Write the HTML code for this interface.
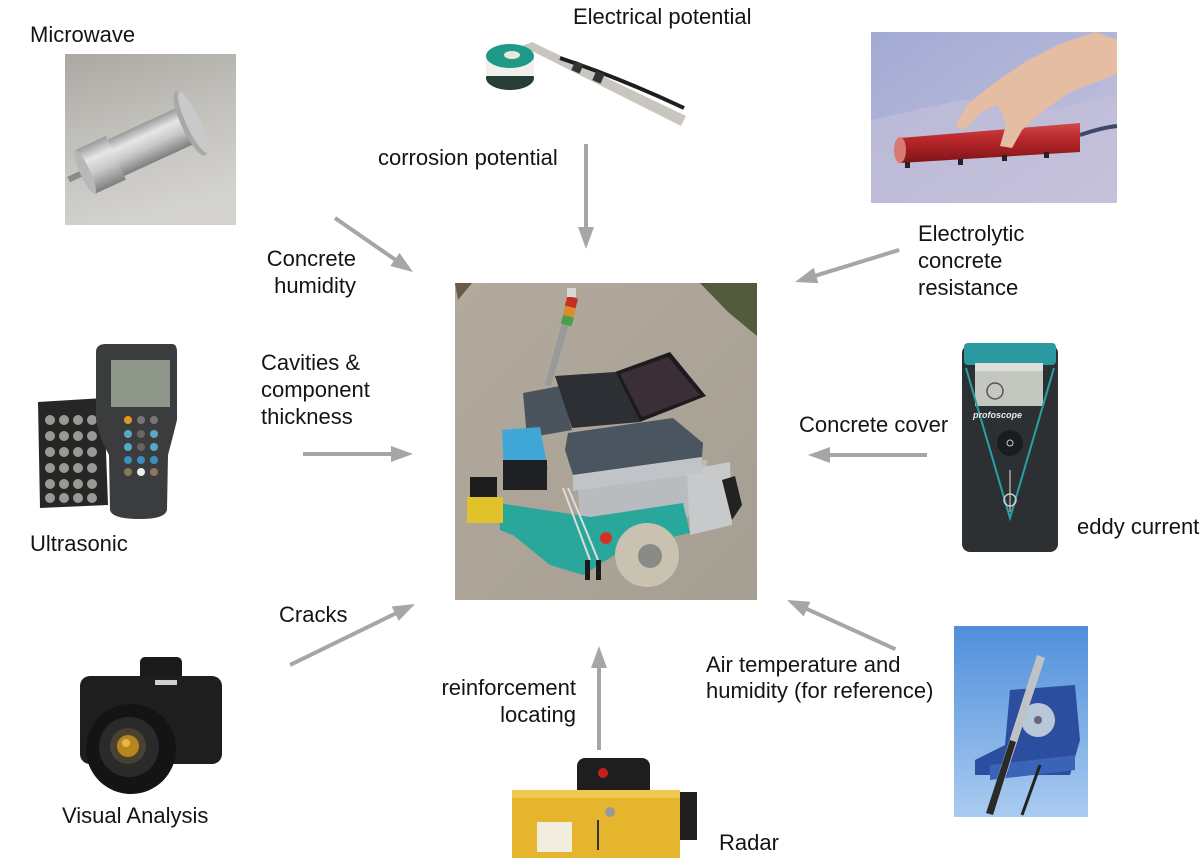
<!DOCTYPE html>
<html><head><meta charset="utf-8"><style>
html,body{margin:0;padding:0;background:#fff;}
svg{display:block;}
text{font-family:"Liberation Sans",Arial,sans-serif;font-size:22px;fill:#141414;}
</style></head><body>
<svg width="1201" height="862" viewBox="0 0 1201 862" xmlns="http://www.w3.org/2000/svg">
<defs>
<linearGradient id="mwbg" x1="0" y1="0" x2="0.3" y2="1"><stop offset="0" stop-color="#aba8a3"/><stop offset="0.5" stop-color="#c2c0bb"/><stop offset="1" stop-color="#d3d2cf"/></linearGradient>
<linearGradient id="silver" x1="0" y1="0" x2="0" y2="1"><stop offset="0" stop-color="#9a9a9a"/><stop offset="0.3" stop-color="#e6e6e6"/><stop offset="0.6" stop-color="#c8c8c8"/><stop offset="1" stop-color="#7e7e7e"/></linearGradient>
<linearGradient id="carpet" x1="0" y1="0" x2="1" y2="1"><stop offset="0" stop-color="#a2aad4"/><stop offset="0.5" stop-color="#b3b6d8"/><stop offset="1" stop-color="#c9c5de"/></linearGradient>
<linearGradient id="red" x1="0" y1="0" x2="0" y2="1"><stop offset="0" stop-color="#d04a4a"/><stop offset="0.4" stop-color="#b9272b"/><stop offset="1" stop-color="#7e1418"/></linearGradient>
<linearGradient id="bluebg" x1="0" y1="0" x2="0" y2="1"><stop offset="0" stop-color="#4f8fdb"/><stop offset="1" stop-color="#aacbf0"/></linearGradient>
<linearGradient id="cobble" x1="0" y1="0" x2="1" y2="1"><stop offset="0" stop-color="#b2aa9d"/><stop offset="1" stop-color="#a59e92"/></linearGradient>
</defs>

<!-- Microwave photo -->
<rect x="65" y="54" width="171" height="171" fill="url(#mwbg)"/>
<g transform="translate(85,172) rotate(-24.7)">
  <rect x="-18" y="-3" width="18" height="6" fill="#8a8a8a"/>
  <rect x="28" y="-20" width="88" height="40" fill="url(#silver)"/>
  <rect x="0" y="-24" width="34" height="48" fill="url(#silver)"/>
  <ellipse cx="0" cy="0" rx="5" ry="24" fill="#b8b8b8"/>
  <ellipse cx="116" cy="0" rx="9" ry="35" fill="#a8a8a8"/>
  <ellipse cx="119" cy="0" rx="7" ry="33" fill="#c9c9c9"/>
</g>

<!-- Electrical potential photo -->
<polygon points="522,46 532,42 686,116 681,126" fill="#c9c6bf"/>
<path d="M560,58 Q620,78 684,108" stroke="#1e1e1e" stroke-width="4" fill="none"/>
<rect x="573" y="62" width="9" height="10" fill="#333" transform="rotate(24 577 67)"/>
<rect x="594" y="72" width="9" height="10" fill="#333" transform="rotate(24 598 77)"/>
<ellipse cx="510" cy="78" rx="24" ry="12" fill="#263d38"/>
<rect x="486" y="56" width="48" height="20" fill="#f2f0ea"/>
<ellipse cx="510" cy="56" rx="24" ry="12" fill="#1e9a88"/>
<ellipse cx="512" cy="55" rx="8" ry="4" fill="#e8e8e0"/>

<!-- Top-right electrolytic photo -->
<rect x="871" y="32" width="246" height="171" fill="url(#carpet)"/>
<polygon points="871,120 960,100 1050,110 1117,95 1117,203 871,203" fill="#c4bfd9" opacity="0.6"/>
<path d="M1080,135 Q1100,128 1117,126" stroke="#3b4a68" stroke-width="4" fill="none"/>
<polygon points="900,138 1080,123 1080,152 900,163" fill="url(#red)"/>
<ellipse cx="900" cy="150" rx="6" ry="13" fill="#d77a70"/>
<g fill="#2a2020"><rect x="905" y="162" width="5" height="6"/><rect x="958" y="159" width="5" height="6"/><rect x="1002" y="155" width="5" height="6"/><rect x="1044" y="152" width="5" height="6"/></g>
<polygon points="1117,40 1095,32 1060,44 1025,62 993,84 968,104 955,126 964,130 982,112 998,104 1006,125 1000,146 1012,148 1022,130 1042,112 1070,92 1117,74" fill="#e5bda2"/>

<!-- Center robot photo -->
<rect x="455" y="283" width="302" height="317" fill="url(#cobble)"/>
<polygon points="700,283 757,283 757,336 728,312" fill="#525c3c"/>
<polygon points="455,283 472,283 458,300" fill="#6a5a48"/>
<!-- light tower -->
<polygon points="568,300 576,300 551,386 545,385" fill="#9a9a9a"/>
<rect x="566" y="297" width="11" height="10" fill="#c53020" transform="rotate(15 571 302)"/>
<rect x="564" y="307" width="11" height="9" fill="#e0892a" transform="rotate(15 569 311)"/>
<rect x="562" y="316" width="11" height="9" fill="#4aa048" transform="rotate(15 567 320)"/>
<rect x="567" y="288" width="9" height="9" fill="#d8d8d8"/>
<!-- left top case -->
<polygon points="523,393 560,386 572,430 527,438" fill="#4b545c"/>
<!-- silver base panel -->
<polygon points="577,470 707,460 710,515 580,525" fill="#b9bcbf"/>
<!-- right frame -->
<polygon points="687,470 730,462 732,525 690,535" fill="#c8c9ca"/>
<polygon points="722,480 735,476 742,505 732,520" fill="#222"/>
<!-- teal body -->
<polygon points="498,503 590,517 683,503 690,533 627,547 583,575 550,565 513,535 500,530" fill="#2aa79b"/>
<!-- big gray case -->
<polygon points="568,433 673,418 703,443 702,457 573,475 565,450" fill="#4a5560"/>
<polygon points="573,475 702,457 702,473 573,491" fill="#c0c4c8"/>
<!-- laptop -->
<polygon points="555,376 615,372 640,422 572,428" fill="#2c2f33"/>
<polygon points="615,372 670,352 706,396 640,422" fill="#1c1c1e"/>
<polygon points="620,374 668,357 700,395 642,417" fill="#3a2f36"/>
<!-- blue scanner -->
<polygon points="502,430 540,427 548,470 504,470" fill="#3fa6d6"/>
<rect x="503" y="460" width="44" height="30" fill="#1e2022"/>
<!-- yellow sensor -->
<rect x="470" y="477" width="27" height="22" fill="#1c1c1c"/>
<rect x="467" y="497" width="36" height="26" fill="#e2c22a"/>
<!-- cables -->
<path d="M563,488 Q575,520 590,560" stroke="#ddd" stroke-width="2" fill="none"/>
<path d="M568,488 Q582,520 598,560" stroke="#ddd" stroke-width="2" fill="none"/>
<circle cx="606" cy="538" r="6" fill="#d83020"/>
<rect x="585" y="560" width="5" height="20" fill="#1a1a1a"/>
<rect x="596" y="560" width="5" height="20" fill="#1a1a1a"/>
<!-- wheel -->
<circle cx="647" cy="555" r="32" fill="#c9c2b0"/>
<circle cx="650" cy="556" r="12" fill="#8a8a88"/>

<!-- Ultrasonic photo -->
<polygon points="38,402 104,398 108,505 40,508" fill="#262626"/>
<g fill="#9a9a95">
<circle cx="50" cy="420" r="5"/><circle cx="64" cy="420" r="5"/><circle cx="78" cy="420" r="5"/><circle cx="92" cy="420" r="5"/>
<circle cx="50" cy="436" r="5"/><circle cx="64" cy="436" r="5"/><circle cx="78" cy="436" r="5"/><circle cx="92" cy="436" r="5"/>
<circle cx="50" cy="452" r="5"/><circle cx="64" cy="452" r="5"/><circle cx="78" cy="452" r="5"/><circle cx="92" cy="452" r="5"/>
<circle cx="50" cy="468" r="5"/><circle cx="64" cy="468" r="5"/><circle cx="78" cy="468" r="5"/><circle cx="92" cy="468" r="5"/>
<circle cx="50" cy="484" r="5"/><circle cx="64" cy="484" r="5"/><circle cx="78" cy="484" r="5"/><circle cx="92" cy="484" r="5"/>
<circle cx="50" cy="498" r="5"/><circle cx="64" cy="498" r="5"/><circle cx="78" cy="498" r="5"/><circle cx="92" cy="498" r="5"/>
</g>
<path d="M106,344 L172,344 Q177,344 177,352 L177,420 Q172,440 168,455 L167,510 Q165,519 140,519 Q112,519 110,510 L109,455 Q100,440 96,420 L96,352 Q96,344 106,344 Z" fill="#3a3c3e"/>
<rect x="111" y="360" width="59" height="47" fill="#8e968a"/>
<g>
<circle cx="128" cy="420" r="4" fill="#e0962a"/><circle cx="141" cy="420" r="4" fill="#777"/><circle cx="154" cy="420" r="4" fill="#777"/>
<circle cx="128" cy="434" r="4" fill="#58a8c8"/><circle cx="141" cy="434" r="4" fill="#666"/><circle cx="154" cy="434" r="4" fill="#58a8c8"/>
<circle cx="128" cy="447" r="4" fill="#58a8c8"/><circle cx="141" cy="447" r="4" fill="#666"/><circle cx="154" cy="447" r="4" fill="#58a8c8"/>
<circle cx="128" cy="460" r="4" fill="#3b8ec2"/><circle cx="141" cy="460" r="4" fill="#3b8ec2"/><circle cx="154" cy="460" r="4" fill="#3b8ec2"/>
<circle cx="128" cy="472" r="4" fill="#8a7a5a"/><circle cx="141" cy="472" r="4" fill="#eee"/><circle cx="154" cy="472" r="4" fill="#8a7a5a"/>
</g>

<!-- Profoscope photo -->
<rect x="962" y="345" width="96" height="207" rx="8" fill="#2c3032"/>
<rect x="964" y="343" width="92" height="22" rx="4" fill="#2a9aa0"/>
<rect x="975" y="363" width="68" height="43" fill="#c3c7bf"/>
<rect x="975" y="363" width="68" height="8" fill="#dcdfd8"/>
<circle cx="995" cy="391" r="8" fill="none" stroke="#555" stroke-width="1.5"/>
<path d="M966,368 L1010,518 L1054,368" stroke="#2aa0a6" stroke-width="2" fill="none"/>
<text x="973" y="418" style="font-size:9px;fill:#e8e8e8;font-style:italic;font-weight:bold">profoscope</text>
<circle cx="1010" cy="443" r="13" fill="#1a1c1d"/>
<circle cx="1010" cy="443" r="3" fill="none" stroke="#ccc" stroke-width="1"/>
<line x1="1010" y1="470" x2="1010" y2="512" stroke="#888" stroke-width="2"/>
<circle cx="1010" cy="500" r="6" fill="none" stroke="#ccc" stroke-width="1.5"/>

<!-- Camera photo -->
<rect x="140" y="657" width="42" height="24" rx="5" fill="#1a1a1a"/>
<rect x="80" y="676" width="142" height="88" rx="10" fill="#1e1e1e"/>
<circle cx="131" cy="749" r="45" fill="#141414"/>
<circle cx="129" cy="747" r="30" fill="#2a2a2a"/>
<circle cx="128" cy="746" r="18" fill="#4a4030"/>
<circle cx="128" cy="746" r="11" fill="#b8861e"/>
<circle cx="126" cy="743" r="4" fill="#e6b84a"/>
<rect x="155" y="680" width="22" height="5" fill="#cfcfcf"/>

<!-- Radar photo -->
<rect x="675" y="792" width="22" height="48" fill="#1e1e1e"/>
<rect x="577" y="758" width="73" height="44" rx="8" fill="#1e1e1e"/>
<circle cx="603" cy="773" r="5" fill="#c42020"/>
<rect x="512" y="790" width="168" height="68" fill="#e6b52e"/>
<rect x="512" y="790" width="168" height="8" fill="#f0c850"/>
<rect x="537" y="822" width="35" height="30" fill="#f2eedf"/>
<line x1="598" y1="820" x2="598" y2="850" stroke="#333" stroke-width="2"/>
<circle cx="610" cy="812" r="5" fill="#999"/>

<!-- Bottom-right humidity photo -->
<rect x="954" y="626" width="134" height="191" fill="url(#bluebg)"/>
<polygon points="1010,690 1075,685 1080,740 1070,775 975,775 975,760 1005,745" fill="#2b4f9e"/>
<polygon points="990,765 1075,755 1075,770 990,780" fill="#3a64b8"/>
<circle cx="1038" cy="720" r="17" fill="#b8c8d8"/>
<circle cx="1038" cy="720" r="4" fill="#667"/>
<polygon points="1037,655 1045,658 993,815 986,813" fill="#bfc3c6"/>
<polygon points="1010,740 1016,742 993,815 986,813" fill="#2a2a2a"/>
<line x1="1040" y1="765" x2="1022" y2="815" stroke="#222" stroke-width="3"/>

<!-- Arrows -->
<g fill="#a6a6a6" stroke="#a6a6a6">
<g transform="translate(413,272) rotate(34.7)"><line x1="-95" y1="0" x2="-16" y2="0" stroke-width="4"/><polygon points="0,0 -22,-8 -22,8" stroke="none"/></g>
<g transform="translate(586,249) rotate(90)"><line x1="-105" y1="0" x2="-16" y2="0" stroke-width="4"/><polygon points="0,0 -22,-8 -22,8" stroke="none"/></g>
<g transform="translate(795,282) rotate(162.9)"><line x1="-109" y1="0" x2="-16" y2="0" stroke-width="4"/><polygon points="0,0 -22,-8 -22,8" stroke="none"/></g>
<g transform="translate(413,454)"><line x1="-110" y1="0" x2="-16" y2="0" stroke-width="4"/><polygon points="0,0 -22,-8 -22,8" stroke="none"/></g>
<g transform="translate(808,455) rotate(180)"><line x1="-119" y1="0" x2="-16" y2="0" stroke-width="4"/><polygon points="0,0 -22,-8 -22,8" stroke="none"/></g>
<g transform="translate(415,604) rotate(-26)"><line x1="-139" y1="0" x2="-16" y2="0" stroke-width="4"/><polygon points="0,0 -22,-8 -22,8" stroke="none"/></g>
<g transform="translate(599,646) rotate(-90)"><line x1="-104" y1="0" x2="-16" y2="0" stroke-width="4"/><polygon points="0,0 -22,-8 -22,8" stroke="none"/></g>
<g transform="translate(787,600) rotate(-155.6)"><line x1="-119" y1="0" x2="-16" y2="0" stroke-width="4"/><polygon points="0,0 -22,-8 -22,8" stroke="none"/></g>
</g>

<!-- Labels -->
<text x="30" y="42">Microwave</text>
<text x="573" y="24">Electrical potential</text>
<text x="378" y="165">corrosion potential</text>
<text x="356" y="266" text-anchor="end">Concrete</text>
<text x="356" y="293" text-anchor="end">humidity</text>
<text x="918" y="241">Electrolytic</text>
<text x="918" y="268">concrete</text>
<text x="918" y="295">resistance</text>
<text x="261" y="370">Cavities &amp;</text>
<text x="261" y="397">component</text>
<text x="261" y="424">thickness</text>
<text x="30" y="551">Ultrasonic</text>
<text x="799" y="432">Concrete cover</text>
<text x="1077" y="534">eddy current</text>
<text x="279" y="622">Cracks</text>
<text x="62" y="823">Visual Analysis</text>
<text x="576" y="695" text-anchor="end">reinforcement</text>
<text x="576" y="722" text-anchor="end">locating</text>
<text x="706" y="672">Air temperature and</text>
<text x="706" y="698">humidity (for reference)</text>
<text x="719" y="850">Radar</text>
</svg>
</body></html>
